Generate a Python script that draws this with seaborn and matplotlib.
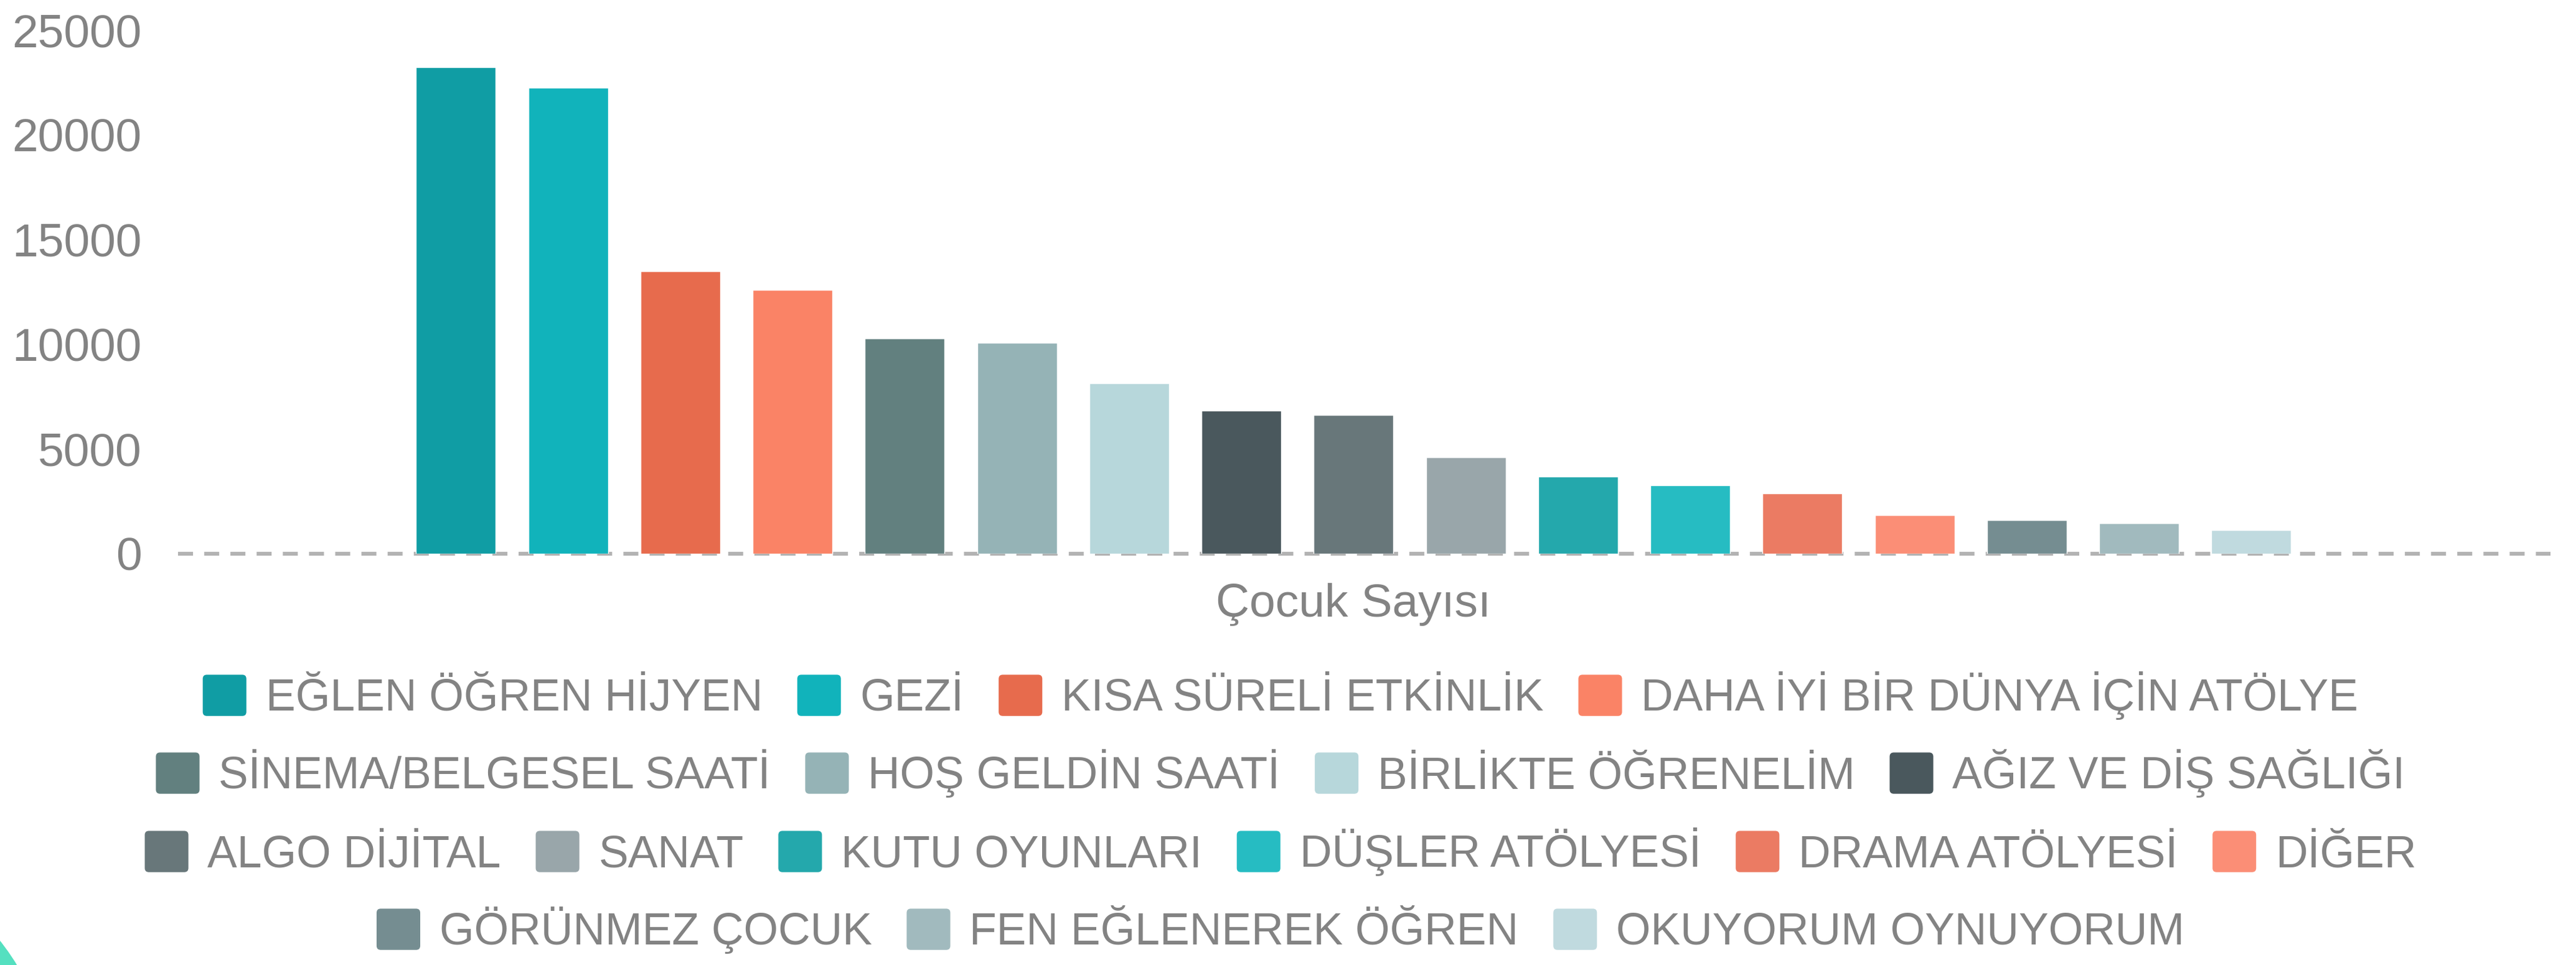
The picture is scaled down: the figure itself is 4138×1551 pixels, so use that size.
import pandas as pd
import numpy as np
import matplotlib
matplotlib.use("Agg")
import matplotlib.pyplot as plt
import seaborn as sns
from matplotlib.patches import Patch, FancyBboxPatch, Circle
from matplotlib.legend_handler import HandlerPatch

# --- Datos ---
grup = "Çocuk Sayısı"
etkinlikler = [
    "EĞLEN ÖĞREN HİJYEN", "GEZİ", "KISA SÜRELİ ETKİNLİK", "DAHA İYİ BİR DÜNYA İÇİN ATÖLYE",
    "SİNEMA/BELGESEL SAATİ", "HOŞ GELDİN SAATİ", "BİRLİKTE ÖĞRENELİM", "AĞIZ VE DİŞ SAĞLIĞI",
    "ALGO DİJİTAL", "SANAT", "KUTU OYUNLARI", "DÜŞLER ATÖLYESİ", "DRAMA ATÖLYESİ", "DİĞER",
    "GÖRÜNMEZ ÇOCUK", "FEN EĞLENEREK ÖĞREN", "OKUYORUM OYNUYORUM",
]
sayilar = [23230, 22240, 13470, 12590, 10260, 10070, 8120, 6820,
           6600, 4590, 3670, 3260, 2870, 1830, 1590, 1440, 1120]
renkler = ["#109DA4", "#11B3BB", "#E76B4D", "#FA8366", "#62807F", "#95B3B6", "#B7D7DB",
           "#4A585D", "#68777A", "#99A6AA", "#24A8AC", "#26BCC2", "#EB7B63", "#FB8E76",
           "#758D91", "#A1BABE", "#C0DADF"]
legend_satirlari = [4, 4, 6, 3]  # her satirdaki oge sayisi

df = pd.DataFrame({"grup": grup, "etkinlik": etkinlikler, "sayi": sayilar})

# --- Estetik ---
sns.set_theme(style="white")
plt.rcParams["font.family"] = ["Liberation Sans", "DejaVu Sans"]
plt.rcParams["lines.scale_dashes"] = False
GRI = "#838383"
FS = 54
FS_LEG = 51.5

W, H = 4138, 1551
fig = plt.figure(figsize=(W / 100, H / 100), dpi=100)
ax = fig.add_axes([286 / W, 1 - 889.5 / H, (4097 - 286) / W, (889.5 - 48.5) / H])

sns.barplot(data=df, x="grup", y="sayi", hue="etkinlik", hue_order=etkinlikler,
            palette=renkler, saturation=1, width=0.804, gap=0.29, errorbar=None,
            legend=False, ax=ax, zorder=2)

ax.axhline(0, color="#B3B3B3", lw=4.5, dashes=(17.3, 13), zorder=1, clip_on=False)
ax.set_ylim(0, 25000)
ax.set_xlim(-0.4955, 0.5045)
ax.set_yticks(np.arange(0, 25001, 5000))
ax.tick_params(axis="y", length=0, pad=42, labelsize=FS, labelcolor=GRI)
ax.tick_params(axis="x", length=0, pad=34, labelsize=FS, labelcolor=GRI)
ax.set_xlabel("")
ax.set_ylabel("")
sns.despine(ax=ax, left=True, bottom=True)
ax.grid(False)


# yuvarlak koseli legend kutulari
class YuvarlakKutu(HandlerPatch):
    def create_artists(self, legend, orig_handle, xdescent, ydescent, width, height, fontsize, trans):
        p = FancyBboxPatch((-xdescent, -ydescent), width, height,
                           boxstyle=f"round,pad=0,rounding_size={height * 0.1:.2f}",
                           facecolor=orig_handle.get_facecolor(), edgecolor="none",
                           transform=trans)
        return [p]


satir_y = [1118, 1243, 1369, 1495]
i = 0
for n, y in zip(legend_satirlari, satir_y):
    handles = [Patch(facecolor=c) for c in renkler[i:i + n]]
    fig.legend(handles=handles, labels=etkinlikler[i:i + n], ncol=n, loc="center",
               bbox_to_anchor=(2057 / W, 1 - y / H), frameon=False, fontsize=FS_LEG,
               labelcolor=GRI, handlelength=0.98, handleheight=1.05,
               handletextpad=0.43, columnspacing=0.78, borderpad=0, borderaxespad=0,
               handler_map={Patch: YuvarlakKutu()})
    i += n

# sol alt kosedeki dekoratif daire
fig.patches.append(Circle((-300, -199), 383, transform=None, facecolor="#55E0C0",
                          edgecolor="none", figure=fig))

fig.savefig("out.png", dpi=100)
